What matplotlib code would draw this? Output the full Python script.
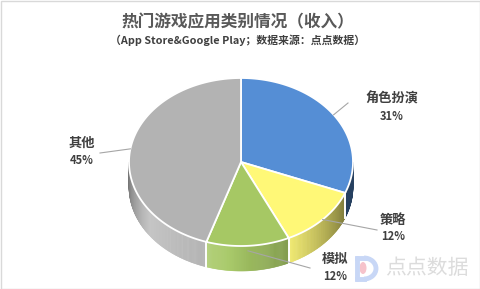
import numpy as np
import matplotlib
import matplotlib.pyplot as plt
from matplotlib.patches import Polygon, Rectangle, Ellipse, Arc

matplotlib.rcParams['font.family'] = ['Noto Sans CJK SC', 'DejaVu Sans']

# 收入占比（%）
categories = ['角色扮演', '策略', '模拟', '其他']
shares = [31, 12, 12, 45]
colors = ['#558ed5', '#fff877', '#a6c864', '#b3b3b3']
# 侧面明暗（从左到右的亮度系数）
side_shade = [(0.45, 0.45), (0.95, 0.5), (1.08, 0.78), (0.62, 1.12, 1.0)]

title = '热门游戏应用类别情况（收入）'
subtitle = '（App Store&Google Play；数据来源：点点数据）'

# 椭圆参数（像素坐标）
cx, cy, a, b, depth = 241, 162, 112, 84, 25


def pt(theta):
    t = np.radians(theta)
    return cx + a * np.cos(t), cy - b * np.sin(t)


def shade(c, f):
    rgb = np.array(matplotlib.colors.to_rgb(c))
    if f <= 1:
        rgb = rgb * f
    else:
        rgb = rgb + (1 - rgb) * (f - 1) * 2
    return np.clip(rgb, 0, 1)


fig = plt.figure(figsize=(4.81, 2.89), dpi=100)
ax = fig.add_axes([0, 0, 1, 1])
ax.set_xlim(0, 481)
ax.set_ylim(289, 0)
ax.axis('off')

# 计算每个扇区的起止角度（从12点方向顺时针）
bounds = []
start = 90.0
for v in shares:
    end = start - 360.0 * v / sum(shares)
    bounds.append((end, start))
    start = end

# 侧面
for (lo, hi), c, sh in zip(bounds, colors, side_shade):
    s0, s1 = max(lo, -180), min(hi, 0)
    if s0 >= s1:
        continue
    n = max(int((s1 - s0) * 2), 2)
    th = np.linspace(s0, s1, n + 1)
    stops = np.linspace(0, 1, len(sh))
    for i in range(n):
        f = np.interp((i + 0.5) / n, stops, sh)
        col = shade(c, f)
        x1, y1 = pt(th[i])
        x2, y2 = pt(th[i + 1])
        ax.add_patch(Polygon([(x1, y1), (x2, y2), (x2, y2 + depth), (x1, y1 + depth)],
                             closed=True, facecolor=col, edgecolor=col, lw=0.4))
    for edge in (s0, s1):
        if -180 < edge < 0:
            x, y = pt(edge)
            ax.plot([x, x], [y, y + depth], color='white', lw=1.2)

# 顶面
for (lo, hi), c in zip(bounds, colors):
    th = np.linspace(hi, lo, 120)
    xs, ys = pt(th)
    verts = [(cx, cy)] + list(zip(xs, ys))
    ax.add_patch(Polygon(verts, closed=True, facecolor=c, edgecolor='white', lw=1.3))

# 标签与引导线
label_pos = [(392, 99), (393, 220), (335, 259), (82, 143)]
line_end = [(348, 103), (377, 230), (310, 268), (100, 153)]
for (lo, hi), name, v, (lx, ly), (ex, ey) in zip(bounds, categories, shares, label_pos, line_end):
    mid = (lo + hi) / 2
    sx, sy = pt(mid)
    if name == '模拟':
        sy += 5
    ax.plot([sx, ex], [sy, ey], color='#a6a6a6', lw=0.8)
    ax.text(lx, ly, name, ha='center', va='center', fontsize=9.5,
            fontweight='bold', color='#404040')
    ax.text(lx, ly + 17, f'{v}%', ha='center', va='center', fontsize=8,
            fontweight='bold', color='#404040')

# 标题
ax.text(238, 22, title, ha='center', va='center', fontsize=12,
        fontweight='bold', color='#595959')
ax.text(238, 40, subtitle, ha='center', va='center', fontsize=7.8,
        fontweight='bold', color='#404040')

# 水印
ax.add_patch(Ellipse((363, 268), 7, 12, facecolor='#f6c3cb', edgecolor='none'))
ax.plot([357, 357], [258, 279], color='#c8d7f6', lw=3.5, solid_capstyle='round')
ax.add_patch(Arc((364, 268.5), 24, 21, theta1=-90, theta2=90, color='#c8d7f6', lw=3.5))
ax.plot([357, 364], [258, 258], color='#c8d7f6', lw=3.5)
ax.plot([357, 364], [279, 279], color='#c8d7f6', lw=3.5)
ax.text(427, 268, '点点数据', ha='center', va='center', fontsize=15,
        color='#dcdcdc')

# 外框
ax.add_patch(Rectangle((0.5, 0.5), 480, 288, fill=False, edgecolor='#d9d9d9', lw=1))

fig.savefig('out.png', dpi=100)
